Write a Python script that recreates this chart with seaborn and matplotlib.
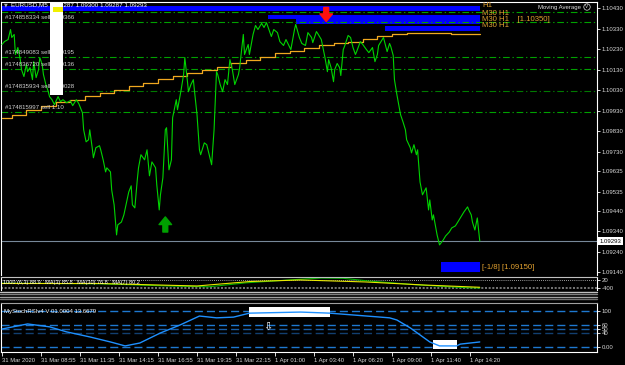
import matplotlib
matplotlib.use("Agg")
import matplotlib.pyplot as plt
import matplotlib.transforms as mtransforms
from matplotlib.lines import Line2D
import seaborn as sns

# ---------------- data ----------------
price_bars = [0, 2, 5, 7, 8, 10, 11, 13, 15, 16, 18, 20, 21, 23, 25, 26, 28, 30, 31, 33, 34, 36, 38, 39,
              41, 43, 46, 48, 50, 53, 56, 58, 61, 63, 66, 67, 69, 71, 72, 74, 75, 77, 80, 81, 83, 85, 86,
              89, 90, 92, 94, 95, 98, 100, 103, 104, 106, 107, 109, 111, 112, 114, 117, 119, 121, 123,
              126, 127, 129, 130, 132, 134, 135, 137, 139, 140, 143, 144, 147, 149, 150, 152, 153, 155,
              157, 158, 160, 162, 163, 166, 168, 171, 172, 174, 176, 177, 179, 181, 183, 185, 187, 189,
              191, 194, 195, 198, 199, 202, 203, 206, 208, 210, 213, 215, 217, 219, 221, 223, 226, 228,
              231, 233, 235, 237, 240, 241, 244, 246, 249, 251, 254, 255, 258, 259, 262, 263, 265, 267,
              268, 270, 272, 273, 275, 277, 278, 280, 281, 284, 286, 288, 290, 291, 294, 296, 299, 301,
              304, 306, 308, 309, 312, 313, 316, 318, 319, 321, 322, 324, 327, 329, 331, 332, 335, 336,
              338, 340, 341, 343, 345, 348, 350, 351, 353, 354, 357, 359, 362, 364, 367, 369, 372, 374,
              377, 379, 382, 383, 385, 386, 388, 390, 392]
price_close = [1.10254, 1.10268, 1.10278, 1.10327, 1.10288, 1.10303, 1.10205, 1.10239, 1.10180, 1.10131,
               1.10097, 1.10156, 1.10121, 1.10141, 1.10082, 1.10170, 1.10092, 1.10131, 1.10190, 1.10156,
               1.10107, 1.10058, 1.10023, 1.09999, 1.09984, 1.09960, 1.09999, 1.09974, 1.09984, 1.09969,
               1.09979, 1.09955, 1.09984, 1.09965, 1.09920, 1.09837, 1.09778, 1.09788, 1.09837, 1.09749,
               1.09700, 1.09749, 1.09759, 1.09739, 1.09690, 1.09631, 1.09651, 1.09631, 1.09543, 1.09470,
               1.09323, 1.09372, 1.09386, 1.09421, 1.09504, 1.09533, 1.09563, 1.09470, 1.09455, 1.09592,
               1.09651, 1.09715, 1.09690, 1.09739, 1.09612, 1.09680, 1.09651, 1.09568, 1.09445, 1.09519,
               1.09602, 1.09837, 1.09847, 1.09641, 1.09690, 1.09896, 1.09984, 1.09935, 1.10033, 1.10107,
               1.10190, 1.10082, 1.10023, 1.10058, 1.10082, 1.10023, 1.09911, 1.09739, 1.09715, 1.09773,
               1.09764, 1.09690, 1.09666, 1.09837, 1.10121, 1.10107, 1.10058, 1.10023, 1.10082, 1.10058,
               1.10180, 1.10131, 1.10058, 1.10107, 1.10141, 1.10303, 1.10205, 1.10254, 1.10205, 1.10303,
               1.10347, 1.10327, 1.10357, 1.10337, 1.10361, 1.10327, 1.10293, 1.10327, 1.10312, 1.10268,
               1.10249, 1.10278, 1.10254, 1.10229, 1.10327, 1.10352, 1.10288, 1.10259, 1.10249, 1.10312,
               1.10288, 1.10263, 1.10317, 1.10308, 1.10278, 1.10249, 1.10190, 1.10121, 1.10180, 1.10141,
               1.10072, 1.10131, 1.10161, 1.10141, 1.10102, 1.10229, 1.10244, 1.10298, 1.10288, 1.10239,
               1.10205, 1.10219, 1.10268, 1.10254, 1.10229, 1.10214, 1.10239, 1.10170, 1.10205, 1.10249,
               1.10278, 1.10288, 1.10219, 1.10259, 1.10244, 1.10200, 1.10082, 1.10009, 1.09911, 1.09876,
               1.09837, 1.09788, 1.09749, 1.09724, 1.09764, 1.09715, 1.09739, 1.09582, 1.09519, 1.09553,
               1.09445, 1.09494, 1.09396, 1.09421, 1.09323, 1.09274, 1.09298, 1.09318, 1.09337, 1.09357,
               1.09367, 1.09386, 1.09416, 1.09435, 1.09460, 1.09445, 1.09421, 1.09386, 1.09347, 1.09406,
               1.09293]

ma_bars = [0, 8, 20, 32, 44, 56, 68, 80, 92, 104, 116, 128, 140, 152, 164, 176, 188, 200, 212, 224,
           236, 248, 260, 272, 284, 296, 308, 320, 332, 344, 356, 368, 380, 392]
ma_values = [1.09896, 1.09911, 1.09935, 1.09955, 1.09974, 1.09984, 1.10004, 1.10018, 1.10033, 1.10053,
             1.10067, 1.10087, 1.10102, 1.10116, 1.10131, 1.10146, 1.10165, 1.10180, 1.10195, 1.10214,
             1.10224, 1.10239, 1.10249, 1.10263, 1.10268, 1.10283, 1.10293, 1.10303, 1.10308, 1.10312,
             1.10312, 1.10305, 1.10305, 1.10305]

current_price = 1.09293

order_prices = [1.10415, 1.10366, 1.10195, 1.10136, 1.10028, 1.09925]
order_labels = ["", "#174858334 sell 1.10366", "#174849083 sell 1.10195", "#174836720 sell 1.10136",
                "#174835934 sell 1.10028", "#174815997 sell 1.10"]

zone_start = [0, 218, 241, 314, 360]
zone_end = [392, 392, 392, 392, 392]
zone_low = [1.10420, 1.10380, 1.10352, 1.10322, 1.09141]
zone_high = [1.10440, 1.10397, 1.10380, 1.10342, 1.09190]
zone_texts = ["H1", "M30 H1", "M30 H1    [1.10350]", "M30 H1", "[-1/8] [1.09150]"]
zone_text_prices = [1.10446, 1.10405, 1.10376, 1.10347, 1.09166]

sell_signal = (266, 1.10435, 1.10366)   # bar, tail, tip
buy_signal = (134, 1.09337, 1.09411)

main_ticks = [1.10430, 1.10330, 1.10230, 1.10130, 1.10030, 1.09930, 1.09830, 1.09730,
              1.09635, 1.09535, 1.09440, 1.09340, 1.09240, 1.09140]

ind_bars_y = [0, 80, 130, 160, 203, 245, 298, 347, 392]
ind_yellow = [50, 50, 38, 31, 65, 77, 62, 38, 21]
ind_bars_g = [0, 80, 140, 170, 200, 240, 262, 280, 300, 340, 380, 392]
ind_green = [52, 48, 30, 25, 55, 80, 92, 90, 70, 40, 18, 15]

stoch_bars = [0, 21, 39, 53, 72, 89, 101, 113, 130, 146, 162, 176, 190, 203, 245, 269, 318, 324,
              335, 351, 359, 373, 376, 392]
stoch_vals = [50, 64, 56, 42, 28, 14, 3, 11, 39, 61, 86, 81, 83, 94, 97, 94, 81, 75, 53, 14, 3, 3, 8, 14]
stoch_levels = [100, 60, 50, 40, 0]
stoch_level_labels = ["100", "60", "50", "40", "0.00"]
stoch_boxes = [(203, 269, 83, 111), (354, 373, -6, 19)]

tick_bars = [0, 32, 64, 96, 128, 160, 192, 224, 256, 288, 320, 352, 384]
tick_labels = ["31 Mar 2020", "31 Mar 08:55", "31 Mar 11:35", "31 Mar 14:15", "31 Mar 16:55",
               "31 Mar 19:35", "31 Mar 22:15", "1 Apr 01:00", "1 Apr 03:40", "1 Apr 06:20",
               "1 Apr 09:00", "1 Apr 11:40", "1 Apr 14:20"]

# ---------------- style ----------------
sns.set_style("dark", {"axes.facecolor": "black", "figure.facecolor": "black"})
plt.rcParams['font.family'] = ['Liberation Sans', 'DejaVu Sans']

W, H = 625, 365
fig = plt.figure(figsize=(W / 100, H / 100), dpi=100, facecolor='black')


def px_axes(x0, y0, x1, y1):
    return fig.add_axes([x0 / W, 1 - y1 / H, (x1 - x0) / W, (y1 - y0) / H])


XL = (-0.82, 488.2)
ax = px_axes(1, 1.5, 597, 275)
ax_ind = px_axes(1, 277, 597, 290)
ax_st = px_axes(1, 303, 597, 352)
for a in (ax, ax_ind, ax_st):
    a.set_facecolor('black')
    a.set_xlim(*XL)
    a.grid(False)
    for s in a.spines.values():
        s.set_linewidth(0.8)
        s.set_color('white')

label_col = '#d8d8d8'
small = 4.3

# ---------------- main panel ----------------
ax.set_ylim(1.09127, 1.10464)
ax.spines['bottom'].set_visible(False)
ax.set_xticks([])
ax.yaxis.tick_right()
ax.set_yticks(main_ticks)
ax.set_yticklabels([f"{v:.5f}" for v in main_ticks])
ax.tick_params(axis='y', right=True, left=False, labelright=True, labelleft=False,
               colors='white', labelcolor=label_col, length=2, width=0.6, pad=1.5, labelsize=small)

# zones
for x0, x1, lo, hi in zip(zone_start, zone_end, zone_low, zone_high):
    ax.fill_between([x0, x1], lo, hi, color='#0000ff', lw=0, zorder=2)
for t, p in zip(zone_texts, zone_text_prices):
    ax.text(394, p, t, fontsize=5.6, color='#e0a030', va='center', ha='left', zorder=6)

# order lines
for i, p in enumerate(order_prices):
    col = '#007a00' if i == 4 else '#00a000'
    ax.axhline(p, color=col, lw=0.8, ls=(0, (6, 2.5, 1.2, 2.5)), zorder=2.5)
    if order_labels[i]:
        ax.annotate(order_labels[i], xy=(0, p), xycoords=('axes fraction', 'data'),
                    xytext=(4, 4), textcoords='offset pixels', fontsize=4.4,
                    color='#d0d0d0', va='center', ha='left', zorder=5)

# current price line
ax.axhline(current_price, color='#778899', lw=0.8, zorder=2.5)

# MA and price
sns.lineplot(x=ma_bars, y=ma_values, ax=ax, color='#f0a820', linewidth=0.9,
             drawstyle='steps-post', estimator=None, sort=False, zorder=3)
sns.lineplot(x=price_bars, y=price_close, ax=ax, color='#00d400', linewidth=0.8,
             estimator=None, sort=False, zorder=4)
ax.set_xlabel(""); ax.set_ylabel("")

# signal arrows
for (b, tail, tip), col in ((sell_signal, '#ff1010'), (buy_signal, '#00a000')):
    ax.annotate('', xy=(b, tip), xytext=(b, tail),
                arrowprops=dict(arrowstyle='simple,head_length=0.55,head_width=0.9,tail_width=0.35',
                                color=col, mutation_scale=10, shrinkA=0, shrinkB=0), zorder=6)

# title and white box
ax.text(3 / 596, (275 - 5) / 273.5, '▼', transform=ax.transAxes, fontsize=3.5, color='#b0b0b0',
        va='center', ha='left', zorder=6, family=['DejaVu Sans'])
ax.text(10 / 596, (275 - 5) / 273.5, 'EURUSD,M5  1.09287 1.09300 1.09287 1.09293', transform=ax.transAxes,
        fontsize=4.5, color='white', va='center', ha='left', zorder=6)
ax.fill_between([39, 50], 1.10009, 1.10458, color='white', lw=0, zorder=7)
ax.fill_between([42, 50], 1.10415, 1.10435, color='#f0f000', lw=0, zorder=8)

ax.text((581 - 1) / 596, (275 - 7) / 273.5, 'Moving Average', transform=ax.transAxes,
        fontsize=4.3, color='#e0e0e0', va='center', ha='right', zorder=6)
ax.text((587 - 1) / 596, (275 - 7) / 273.5, 'V', transform=ax.transAxes,
        fontsize=3.4, color='#e0e0e0', va='center', ha='center', zorder=6,
        bbox=dict(boxstyle='circle,pad=0.15', fc='none', ec='#e0e0e0', lw=0.5))

trans = mtransforms.blended_transform_factory(ax.transAxes, ax.transData)
ax.text(1.004, current_price, '1.09293', transform=trans, fontsize=small, color='black',
        va='center', ha='left', zorder=9, clip_on=False,
        bbox=dict(boxstyle='square,pad=0.25', fc='white', ec='none'))

# ---------------- indicator panel ----------------
ax_ind.set_ylim(0, 100)
ax_ind.spines['top'].set_color('#c0c0c0')
ax_ind.spines['bottom'].set_visible(False)
ax_ind.set_xticks([])
ax_ind.axhline(77, color='#cccccc', lw=0.6, ls=(0, (1, 1.5)))
ax_ind.axhline(15, color='#888888', lw=1.2, ls=(0, (1.2, 1)))
sns.lineplot(x=ind_bars_g, y=ind_green, ax=ax_ind, color='#00b000', linewidth=0.8,
             estimator=None, sort=False)
sns.lineplot(x=ind_bars_y, y=ind_yellow, ax=ax_ind, color='#e8e800', linewidth=0.8,
             estimator=None, sort=False)
ax_ind.set_xlabel(""); ax_ind.set_ylabel("")
ax_ind.text(0.004, 0.55, '1000 (6,3) 88.9   MA(3) 85.8   MA(30) 76.8   MA(7) 80.2',
            transform=ax_ind.transAxes, fontsize=4, color='white', va='center', ha='left')
ax_ind.yaxis.tick_right()
ax_ind.set_yticks([77, 15])
ax_ind.set_yticklabels(['20', '-400'])
ax_ind.tick_params(axis='y', right=True, left=False, labelright=True, labelleft=False,
                   colors='white', labelcolor=label_col, length=2, width=0.6, pad=1.5, labelsize=small)

# separators
for yy, col, lw in ((291.5, '#c0c0c0', 1.0), (293.5, '#808080', 1.0),
                    (296.5, '#a0a0a0', 1.0), (298.5, '#707070', 1.0)):
    fig.add_artist(Line2D([0, 597 / W], [1 - yy / H] * 2, color=col, lw=lw))

# ---------------- stoch panel ----------------
ax_st.set_ylim(-13.9, 122.2)
ax_st.spines['top'].set_color('#a0a0a0')
level_cols = ['#1e78d0', '#1e78d0', '#1a5fa8', '#123f70', '#1e78d0']
for lv, col in zip(stoch_levels, level_cols):
    ax_st.axhline(lv, color=col, lw=1.0, ls=(0, (5.8, 2.9)), zorder=1)
for x0, x1, lo, hi in stoch_boxes:
    ax_st.fill_between([x0, x1], lo, hi, color='white', lw=0, zorder=2)
sns.lineplot(x=stoch_bars, y=stoch_vals, ax=ax_st, color='#1e90ff', linewidth=1.0,
             estimator=None, sort=False, zorder=3)
ax_st.set_xlabel(""); ax_st.set_ylabel("")
ax_st.text(218, 55, '⇩', fontsize=8, color='white', ha='center', va='center', zorder=4,
           family=['DejaVu Sans'])
ax_st.text(3 / 596, (352 - 311) / 49, 'MyStochRSIv4 V 01.0004 13.6679', transform=ax_st.transAxes,
           fontsize=small, color='white', va='center', ha='left', zorder=5)
ax_st.yaxis.tick_right()
ax_st.set_yticks(stoch_levels)
ax_st.set_yticklabels(stoch_level_labels)
ax_st.tick_params(axis='y', right=True, left=False, labelright=True, labelleft=False,
                  colors='white', labelcolor=label_col, length=2, width=0.6, pad=1.5, labelsize=small)
ax_st.set_xticks(tick_bars)
ax_st.set_xticklabels(tick_labels, ha='left')
ax_st.tick_params(axis='x', bottom=True, colors='white', labelcolor=label_col, length=3,
                  width=0.6, pad=1.2, labelsize=4.2)

fig.savefig('out.png', dpi=100, facecolor='black')
